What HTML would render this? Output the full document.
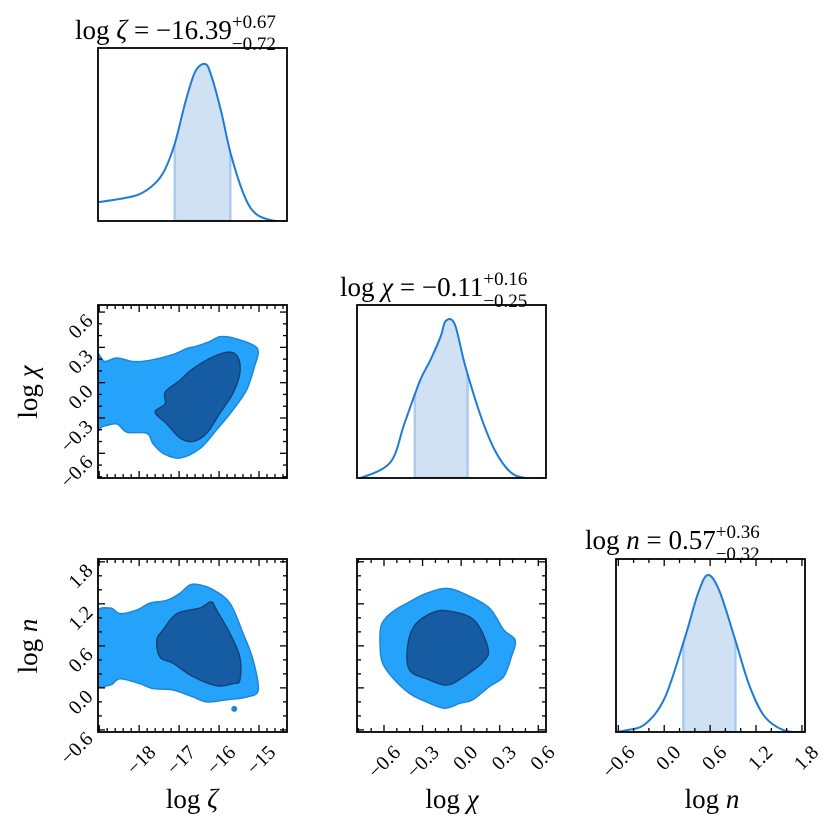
<!DOCTYPE html>
<html><head><meta charset="utf-8">
<style>
html,body{margin:0;padding:0;background:#fff;}
svg{display:block;font-family:"Liberation Serif","DejaVu Serif",serif;}
</style></head>
<body>
<svg id="fig" width="831" height="829" viewBox="0 0 831 829" xmlns="http://www.w3.org/2000/svg"></svg>
<script>
// ---- data ----
const zetaGrid = [-19.03,-18.5,-18,-17.6,-17.35,-17.1,-16.85,-16.6,-16.35,-16.2,-15.95,-15.7,-15.35,-15.05,-14.6,-14.3];
const zetaDens = [0.12,0.14,0.17,0.24,0.33,0.5,0.75,0.95,1,0.93,0.7,0.42,0.15,0.04,0.0,0.0];
const zetaBand = [-17.11,-15.72];
const chiGrid = [-0.81,-0.78,-0.55,-0.44,-0.32,-0.24,-0.16,-0.12,-0.05,0.03,0.15,0.26,0.38,0.5,0.66];
const chiDens = [0.0,0.0,0.1,0.35,0.62,0.75,0.9,1,0.98,0.72,0.4,0.18,0.04,0.0,0.0];
const chiBand = [-0.36,0.05];
const nGrid = [-0.63,-0.51,-0.25,0.01,0.27,0.44,0.57,0.72,0.92,1.11,1.31,1.57,1.84];
const nDens = [0.0,0.01,0.05,0.22,0.6,0.88,1,0.9,0.6,0.3,0.1,0.01,0.0];
const nBand = [0.25,0.93];
const zcOuter = [[-19.1,0.22],[-18.86,0.18],[-18.56,0.21],[-18.15,0.18],[-17.73,0.19],[-17.15,0.24],[-16.81,0.29],[-16.56,0.31],[-16.23,0.35],[-15.98,0.39],[-15.65,0.38],[-15.15,0.32],[-15.02,0.26],[-15.11,0.14],[-15.31,-0.06],[-15.65,-0.23],[-16.06,-0.40],[-16.48,-0.56],[-16.98,-0.64],[-17.4,-0.60],[-17.65,-0.52],[-17.81,-0.43],[-18.31,-0.42],[-18.56,-0.35],[-18.9,-0.37],[-19.1,-0.37]];
const zcInner = [[-17.6,-0.25],[-17.35,-0.18],[-17.35,-0.08],[-16.98,0.02],[-16.65,0.12],[-16.15,0.22],[-15.73,0.26],[-15.52,0.21],[-15.48,0.08],[-15.65,-0.09],[-15.98,-0.26],[-16.31,-0.43],[-16.65,-0.50],[-16.98,-0.47],[-17.31,-0.35]];
const znOuter = [[-19.1,1.02],[-18.73,1.14],[-18.48,1.06],[-18.06,1.11],[-17.73,1.21],[-17.31,1.25],[-16.98,1.35],[-16.73,1.47],[-16.48,1.47],[-16.15,1.40],[-15.73,1.21],[-15.4,0.78],[-15.15,0.40],[-15.02,-0.03],[-15.31,-0.13],[-15.81,-0.17],[-16.31,-0.20],[-16.65,-0.13],[-17.15,-0.03],[-17.65,-0.01],[-17.98,0.06],[-18.48,0.13],[-18.73,0.04],[-19.1,0.11]];
const znInner = [[-17.56,0.68],[-17.48,0.44],[-17.15,0.35],[-16.65,0.16],[-16.06,0.03],[-15.65,0.06],[-15.48,0.11],[-15.48,0.44],[-15.73,0.78],[-16.06,1.11],[-16.2,1.23],[-16.48,1.14],[-17.06,1.06],[-17.4,0.83]];
const znDot = [-15.62,-0.30];
const cnOuter = [[-0.62,0.90],[-0.53,1.09],[-0.40,1.23],[-0.27,1.35],[-0.11,1.42],[0.04,1.33],[0.22,1.14],[0.33,0.83],[0.42,0.68],[0.39,0.44],[0.33,0.16],[0.22,0.02],[0.09,-0.17],[-0.01,-0.22],[-0.13,-0.29],[-0.27,-0.20],[-0.40,-0.08],[-0.53,0.14],[-0.61,0.35],[-0.63,0.59]];
const cnInner = [[-0.42,0.54],[-0.37,0.87],[-0.24,1.06],[-0.11,1.10],[0.10,0.97],[0.21,0.56],[0.17,0.37],[0.02,0.16],[-0.11,0.04],[-0.27,0.13],[-0.40,0.25]];
const zetaTicks = [-18,-17,-16,-15];
const zetaTickLabels = ["\u221218","\u221217","\u221216","\u221215"];
const chiTicks = [-0.6,-0.3,0,0.3,0.6];
const chiTickLabels = ["\u22120.6","\u22120.3","0.0","0.3","0.6"];
const nTicks = [-0.6,0,0.6,1.2,1.8];
const nTickLabels = ["\u22120.6","0.0","0.6","1.2","1.8"];

// ---- layout ----
const NS="http://www.w3.org/2000/svg";
const svg=document.getElementById('fig');
const lim={z:[-19.03,-14.3],c:[-0.81,0.66],n:[-0.63,1.84]};
const minorStep={z:0.2,c:0.1,n:0.2};
const cols=[98,357,616], W=189, rows=[48,305,559], H=173;
function mk(tag,attrs,parent){const e=document.createElementNS(NS,tag);for(const k in attrs)e.setAttribute(k,attrs[k]);(parent||svg).appendChild(e);return e;}
function sx(v,key,col){const L=lim[key];return cols[col]+(v-L[0])/(L[1]-L[0])*W;}
function sy(v,key,row){const L=lim[key];return rows[row]+H-(v-L[0])/(L[1]-L[0])*H;}
function smooth(pts){
  const n=pts.length;let d=`M${pts[0][0]},${pts[0][1]}`;
  for(let i=0;i<n;i++){const p0=pts[(i-1+n)%n],p1=pts[i],p2=pts[(i+1)%n],p3=pts[(i+2)%n];
    d+=` C${p1[0]+(p2[0]-p0[0])/6},${p1[1]+(p2[1]-p0[1])/6} ${p2[0]-(p3[0]-p1[0])/6},${p2[1]-(p3[1]-p1[1])/6} ${p2[0]},${p2[1]}`;}
  return d+'Z';}
function smoothOpen(pts){let d=`M${pts[0][0]},${pts[0][1]}`;const n=pts.length;
  for(let i=0;i<n-1;i++){const p0=pts[Math.max(i-1,0)],p1=pts[i],p2=pts[i+1],p3=pts[Math.min(i+2,n-1)];
    d+=` C${p1[0]+(p2[0]-p0[0])/6},${p1[1]+(p2[1]-p0[1])/6} ${p2[0]-(p3[0]-p1[0])/6},${p2[1]-(p3[1]-p1[1])/6} ${p2[0]},${p2[1]}`;}
  return d;}
function clip(id,col,row){const d=mk('defs',{});const c=mk('clipPath',{id:id},d);mk('rect',{x:cols[col],y:rows[row],width:W,height:H},c);}
function ticks(g,key,col,row,axis,sides){
  const L=lim[key];const st=minorStep[key];const maj=key==='z'?1:(key==='c'?0.3:0.6);
  for(let k=Math.ceil(L[0]/st-1e-6);k*st<=L[1]+1e-6;k++){const v=k*st;
    const major=Math.abs(Math.round(v/maj)*maj-v)<1e-6;
    const len=major?7:4;
    if(axis==='x'){const x=sx(v,key,col);
      if(sides.includes('b'))mk('line',{x1:x,x2:x,y1:rows[row]+H,y2:rows[row]+H-len,stroke:'#000','stroke-width':1.3},g);
      if(sides.includes('t'))mk('line',{x1:x,x2:x,y1:rows[row],y2:rows[row]+len,stroke:'#000','stroke-width':1.3},g);}
    else{const y=sy(v,key,row);
      if(sides.includes('l'))mk('line',{y1:y,y2:y,x1:cols[col],x2:cols[col]+len,stroke:'#000','stroke-width':1.3},g);
      if(sides.includes('r'))mk('line',{y1:y,y2:y,x1:cols[col]+W,x2:cols[col]+W-len,stroke:'#000','stroke-width':1.3},g);}
  }}
function xlabels(key,col,row,vals,labs){
  vals.forEach((v,i)=>{const x=sx(v,key,col),y=rows[row]+H+10;
    const t=mk('text',{x:0,y:0,'font-size':20,'text-anchor':'end',transform:`translate(${x+8},${y+2}) rotate(-45)`,'dominant-baseline':'hanging'});
    t.textContent=labs[i];
    
    });}
function ylabels(key,col,row,vals,labs){
  vals.forEach((v,i)=>{const y=sy(v,key,row),x=cols[col]-8;
    const t=mk('text',{x:0,y:0,'font-size':20,'text-anchor':'end',transform:`translate(${x+4},${y+10}) rotate(-45)`});
    t.textContent=labs[i];
    
    });}
function frame(col,row,name){const r=mk('rect',{x:cols[col],y:rows[row],width:W,height:H,fill:'none',stroke:'#000','stroke-width':1.8});
  
  }

function hist1d(col,row,key,grid,dens,band,name,id){
  clip(id,col,row);const g=mk('g',{'clip-path':`url(#${id})`});
  
  
  const toY=d=>rows[row]+H-d*157;
  const pts=grid.map((v,i)=>[sx(v,key,col),toY(dens[i])]);
  const area=smoothOpen(pts)+` L${pts[pts.length-1][0]},${rows[row]+H} L${pts[0][0]},${rows[row]+H}Z`;
  const aid=id+'a';const df=mk('defs',{});const cp=mk('clipPath',{id:aid},df);
  mk('path',{d:area},cp);
  const x0=sx(band[0],key,col),x1=sx(band[1],key,col);
  const f=mk('rect',{x:x0,y:rows[row],width:x1-x0,height:H,fill:'#cfe1f3',stroke:'#a9cbee','stroke-width':2.5,'clip-path':`url(#${aid})`},g);
  
  
  const l=mk('path',{d:smoothOpen(pts),fill:'none',stroke:'#1f7bd6','stroke-width':2},g);
  
  
}
function contour2d(col,row,kx,ky,outer,inner,name,id){
  clip(id,col,row);const g=mk('g',{'clip-path':`url(#${id})`});
  
  
  const po=outer.map(p=>[sx(p[0],kx,col),sy(p[1],ky,row)]);
  const pi=inner.map(p=>[sx(p[0],kx,col),sy(p[1],ky,row)]);
  const o=mk('path',{d:smooth(po),fill:'#25a3fb',stroke:'#1f86d6','stroke-width':1.5},g);
  
  
  const i=mk('path',{d:smooth(pi),fill:'#155ca3',stroke:'#103f70','stroke-width':1.3},g);
  
  
  return g;
}

hist1d(0,0,'z',zetaGrid,zetaDens,zetaBand,'zeta-marginal','c00');
frame(0,0,'zeta-marginal-frame');
hist1d(1,1,'c',chiGrid,chiDens,chiBand,'chi-marginal','c11');
frame(1,1,'chi-marginal-frame');
hist1d(2,2,'n',nGrid,nDens,nBand,'n-marginal','c22');
{const g=mk('g',{});ticks(g,'n',2,2,'x','bt');}
frame(2,2,'n-marginal-frame');

contour2d(0,1,'z','c',zcOuter,zcInner,'zeta-chi-contours','c01');
{const g=mk('g',{});ticks(g,'z',0,1,'x','bt');ticks(g,'c',0,1,'y','lr');}
frame(0,1,'zeta-chi-frame');
const gzn=contour2d(0,2,'z','n',znOuter,znInner,'zeta-n-contours','c02');
{const d=mk('circle',{cx:sx(znDot[0],'z',0),cy:sy(znDot[1],'n',2),r:3,fill:'#1f86d6'},gzn);
 
 }
{const g=mk('g',{});ticks(g,'z',0,2,'x','bt');ticks(g,'n',0,2,'y','lr');}
frame(0,2,'zeta-n-frame');
contour2d(1,2,'c','n',cnOuter,cnInner,'chi-n-contours','c12');
{const g=mk('g',{});ticks(g,'c',1,2,'x','bt');ticks(g,'n',1,2,'y','lr');}
frame(1,2,'chi-n-frame');

ylabels('c',0,1,chiTicks,chiTickLabels);
ylabels('n',0,2,nTicks,nTickLabels);
xlabels('z',0,2,zetaTicks,zetaTickLabels);
xlabels('c',1,2,chiTicks,chiTickLabels);
xlabels('n',2,2,nTicks,nTickLabels);

function title(x,y,sym,val,up,dn,name){
  const t=mk('text',{x:x,y:y,'font-size':27,'text-anchor':'start'});
  
  
  t.innerHTML=`log <tspan font-style="italic">${sym}</tspan> = ${val}<tspan font-size="19" dy="-11">${up}</tspan><tspan font-size="19" dx="-44" dy="22">${dn}</tspan>`;}
title(75,39,'\u03b6','\u221216.39','+0.67','\u22120.72','zeta-title');
title(340,296,'\u03c7','\u22120.11','+0.16','\u22120.25','chi-title');
title(585,549,'n','0.57','+0.36','\u22120.32','n-title');
function alabel(x,y,sym,rot,name){const t=mk('text',{x:0,y:0,'font-size':27,'text-anchor':'middle',transform:`translate(${x},${y}) rotate(${rot})`});
  
  
  t.innerHTML=`log <tspan font-style="italic">${sym}</tspan>`;}
alabel(192,808,'\u03b6',0,'x-axis-title-zeta');
alabel(452,808,'\u03c7',0,'x-axis-title-chi');
alabel(712,808,'n',0,'x-axis-title-n');
alabel(37,392,'\u03c7',-90,'y-axis-title-chi');
alabel(37,646,'n',-90,'y-axis-title-n');
</script>
</body></html>
